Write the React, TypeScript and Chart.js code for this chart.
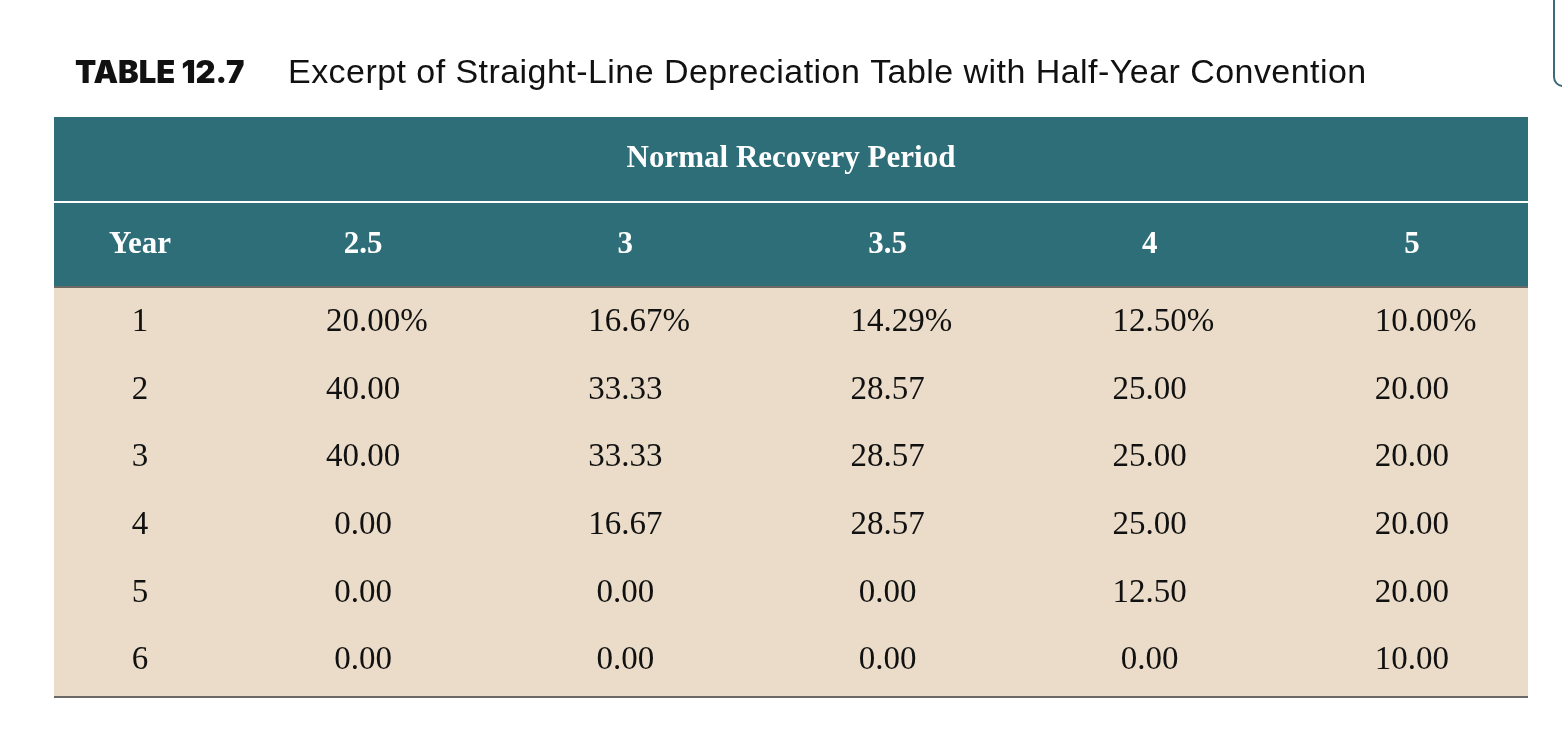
import React, { useEffect, useRef } from 'react';
import { Chart, registerables } from 'chart.js';

Chart.register(...registerables);

// ---- data ----
const titleNumber = 'TABLE 12.7';
const titleText = 'Excerpt of Straight-Line Depreciation Table with Half-Year Convention';
const groupHeader = 'Normal Recovery Period';
const rowHeader = 'Year';
const periods = ['2.5', '3', '3.5', '4', '5'];
const years = ['1', '2', '3', '4', '5', '6'];
const rate2_5 = [20.0, 40.0, 40.0, 0.0, 0.0, 0.0];
const rate3 = [16.67, 33.33, 33.33, 16.67, 0.0, 0.0];
const rate3_5 = [14.29, 28.57, 28.57, 28.57, 0.0, 0.0];
const rate4 = [12.5, 25.0, 25.0, 25.0, 12.5, 0.0];
const rate5 = [10.0, 20.0, 20.0, 20.0, 20.0, 10.0];
const columns = [rate2_5, rate3, rate3_5, rate4, rate5];

// ---- style ----
const TEAL = '#2E6E78';
const BEIGE = '#EADCC8';
const RULE = '#6b6866';
const TABLE_LEFT = 54;
const TABLE_RIGHT = 1528;
const YEAR_COL_WIDTH = 172;
const HEAD_TOP = 117;
const HEAD_SPLIT = 201;
const BODY_TOP = 288;
const BODY_BOTTOM = 696;
const SERIF = '"Liberation Serif", "Times New Roman", serif';

const tablePlugin = {
  id: 'tablePlugin',
  beforeDraw(chart: any) {
    const { ctx } = chart;
    ctx.save();
    // title
    ctx.textBaseline = 'alphabetic';
    ctx.textAlign = 'left';
    ctx.fillStyle = '#111111';
    ctx.font = '900 31px Inter, "Liberation Sans", sans-serif';
    ctx.letterSpacing = '0px';
    ctx.fillText(titleNumber, 75, 83);
    ctx.font = '34px "Liberation Sans", Arial, sans-serif';
    ctx.letterSpacing = '0.45px';
    ctx.fillText(titleText, 288, 83);
    ctx.letterSpacing = '0px';

    // partial rounded box at top right
    ctx.strokeStyle = '#3f6b79';
    ctx.lineWidth = 2;
    ctx.beginPath();
    ctx.roundRect(1554, -20, 60, 106, 9);
    ctx.stroke();

    // header band
    ctx.fillStyle = TEAL;
    ctx.fillRect(TABLE_LEFT, HEAD_TOP, TABLE_RIGHT - TABLE_LEFT, BODY_TOP - HEAD_TOP);
    ctx.fillStyle = '#ffffff';
    ctx.fillRect(TABLE_LEFT, HEAD_SPLIT, TABLE_RIGHT - TABLE_LEFT, 2);
    // body
    ctx.fillStyle = BEIGE;
    ctx.fillRect(TABLE_LEFT, BODY_TOP, TABLE_RIGHT - TABLE_LEFT, BODY_BOTTOM - BODY_TOP);
    ctx.fillStyle = RULE;
    ctx.fillRect(TABLE_LEFT, BODY_TOP - 2, TABLE_RIGHT - TABLE_LEFT, 2);
    ctx.fillRect(TABLE_LEFT, BODY_BOTTOM, TABLE_RIGHT - TABLE_LEFT, 2);
    ctx.restore();
  },
  afterDatasetsDraw(chart: any) {
    const { ctx } = chart;
    const xs = chart.scales.x;
    const ys = chart.scales.y;
    const yearX = TABLE_LEFT + YEAR_COL_WIDTH / 2;
    ctx.save();
    ctx.textBaseline = 'alphabetic';
    // header texts
    ctx.fillStyle = '#ffffff';
    ctx.font = `bold 31px ${SERIF}`;
    ctx.textAlign = 'center';
    ctx.fillText(groupHeader, (TABLE_LEFT + TABLE_RIGHT) / 2, 167);
    ctx.fillText(rowHeader, yearX, 253);
    periods.forEach((p) => {
      ctx.fillText(p, xs.getPixelForValue(xs.parse(p)), 253);
    });
    // body texts
    ctx.fillStyle = '#111111';
    ctx.font = `33px ${SERIF}`;
    years.forEach((yr, r) => {
      const y = ys.getPixelForValue(r) + 11;
      ctx.textAlign = 'center';
      ctx.fillText(yr, yearX, y);
    });
    chart.data.datasets.forEach((ds: any, c: number) => {
      const meta = chart.getDatasetMeta(c);
      meta.data.forEach((pt: any, r: number) => {
        const v = ds.data[r].v as number;
        const s = v.toFixed(2);
        const y = pt.y + 11;
        ctx.textAlign = 'center';
        ctx.fillText(s, pt.x, y);
        if (r === 0) {
          const w = ctx.measureText(s).width;
          ctx.textAlign = 'left';
          ctx.fillText('%', pt.x + w / 2, y);
        }
      });
    });
    ctx.restore();
  },
};

export default function App() {
  const ref = useRef<HTMLCanvasElement | null>(null);
  useEffect(() => {
    if (!ref.current) return;
    const chart = new Chart(ref.current, {
      type: 'scatter',
      data: {
        datasets: columns.map((vals, c) => ({
          label: periods[c],
          data: vals.map((v, r) => ({ x: periods[c], y: years[r], v })),
          pointRadius: 0,
          pointHoverRadius: 0,
          showLine: false,
        })) as any,
      },
      options: {
        animation: false,
        responsive: false,
        events: [],
        layout: { padding: { left: 232, right: 19, top: 286, bottom: 44 } },
        plugins: {
          legend: { display: false },
          tooltip: { enabled: false },
          title: { display: false },
        },
        scales: {
          x: { type: 'category', labels: periods, offset: true, display: false },
          y: { type: 'category', labels: years, offset: true, display: false },
        },
      },
      plugins: [tablePlugin],
    });
    return () => chart.destroy();
  }, []);
  return (
    <div style={{ position: 'absolute', left: 0, top: 0, width: 1562, height: 736, background: '#ffffff' }}>
      <canvas ref={ref} width={1562} height={736} />
    </div>
  );
}
